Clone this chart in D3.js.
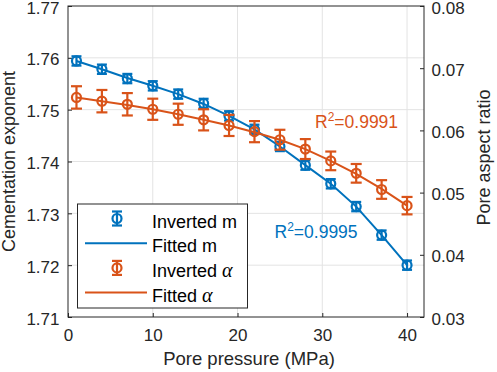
<!DOCTYPE html>
<html><head><meta charset="utf-8">
<script src="https://cdn.jsdelivr.net/npm/d3@7"></script>
<style>body{margin:0;background:#fff}svg{display:block;font-family:"Liberation Sans",Arial,sans-serif}</style>
</head><body><svg id="c" width="497" height="372"></svg>
<script>
// ---- data ----
const pressure = [1,4,7,10,13,16,19,22,25,28,31,34,37,40];
const mInverted = [1.7594,1.7578,1.7560,1.7546,1.7530,1.7512,1.7488,1.7462,1.7429,1.7393,1.7357,1.7313,1.7258,1.7200];
const mError = [0.0009,0.0009,0.0009,0.0009,0.0009,0.0009,0.0009,0.0009,0.0009,0.0009,0.0009,0.0009,0.0009,0.0009];
const mFitted = [1.7594,1.7578,1.7561,1.7546,1.7530,1.7511,1.7488,1.7462,1.7429,1.7393,1.7357,1.7313,1.7258,1.7200];
const alphaInverted = [0.0653,0.0647,0.0642,0.0634,0.0626,0.0617,0.0608,0.0598,0.0585,0.0570,0.0551,0.0531,0.0505,0.0479];
const alphaError = [0.0018,0.0018,0.0018,0.0017,0.0017,0.0017,0.0017,0.0017,0.0016,0.0016,0.0015,0.0015,0.0015,0.0014];
const alphaFitted = [0.0653,0.0647,0.0641,0.0634,0.0626,0.0617,0.0608,0.0597,0.0585,0.0570,0.0551,0.0530,0.0506,0.0479];
const xTicks = [0,10,20,30,40];
const yLeftTicks = [1.71,1.72,1.73,1.74,1.75,1.76,1.77];
const yRightTicks = [0.03,0.04,0.05,0.06,0.07,0.08];
const legendLabels = ["Inverted m","Fitted m","Inverted ","Fitted "];
const r2Labels = ["0.9995","0.9991"];

const blue = "#0072BD", orange = "#D95319", ink = "#262626";
const L = 68, R = 424, T = 6, B = 317;
const svg = d3.select("#c");
const x = d3.scaleLinear([0,42],[L,R]);
const yL = d3.scaleLinear([1.71,1.77],[B,T]);
const yR = d3.scaleLinear([0.03,0.08],[B,T]);

// grid
const g = svg.append("g").attr("stroke","#e3e3e3").attr("stroke-width",1);
xTicks.slice(1).forEach(t=>g.append("line").attr("x1",x(t)).attr("x2",x(t)).attr("y1",T).attr("y2",B));
yLeftTicks.slice(1,-1).forEach(t=>g.append("line").attr("x1",L).attr("x2",R).attr("y1",yL(t)).attr("y2",yL(t)));

// axes
function styleAxis(sel){
  sel.selectAll("text").attr("font-size",17).attr("fill",ink).attr("font-family","'Liberation Sans',Arial,sans-serif");
  sel.selectAll("line").attr("stroke",ink);
  sel.select(".domain").remove();
}
svg.append("g").attr("transform",`translate(0,${B})`)
  .call(d3.axisBottom(x).tickValues(xTicks).tickFormat(d3.format("d")).tickSizeInner(-4).tickSizeOuter(0).tickPadding(12))
  .call(styleAxis);
svg.append("g").attr("transform",`translate(${L},0)`)
  .call(d3.axisLeft(yL).tickValues(yLeftTicks).tickFormat(d3.format(".2f")).tickSizeInner(-4).tickSizeOuter(0).tickPadding(8.5))
  .call(styleAxis).selectAll("text").attr("dy","0.42em");
svg.append("g").attr("transform",`translate(${R},0)`)
  .call(d3.axisRight(yR).tickValues(yRightTicks).tickFormat(d3.format(".2f")).tickSizeInner(-4).tickSizeOuter(0).tickPadding(7.5))
  .call(styleAxis).selectAll("text").attr("dy","0.42em");
svg.append("rect").attr("x",L).attr("y",T).attr("width",R-L).attr("height",B-T)
  .attr("fill","none").attr("stroke",ink).attr("stroke-width",1);

// axis labels
svg.append("text").attr("x",(L+R)/2+3).attr("y",365).attr("text-anchor","middle")
  .attr("font-size",18.5).attr("fill",ink).text("Pore pressure (MPa)");
svg.append("text").attr("transform",`translate(15,${(T+B)/2}) rotate(-90)`).attr("text-anchor","middle")
  .attr("font-size",18).attr("fill",ink).text("Cementation exponent");
svg.append("text").attr("transform",`translate(490,${(T+B)/2-4}) rotate(-90)`).attr("text-anchor","middle")
  .attr("font-size",18).attr("fill",ink).text("Pore aspect ratio");

// series
function drawSeries(vals, errs, fit, y, color, cap){
  const line = d3.line().x((d,i)=>x(pressure[i])).y(d=>y(d));
  svg.append("path").datum(fit).attr("d",line).attr("fill","none").attr("stroke",color).attr("stroke-width",2);
  const s = svg.append("g").attr("stroke",color).attr("stroke-width",2.2).attr("fill","none");
  vals.forEach((v,i)=>{
    const cx = x(pressure[i]), hi = y(v+errs[i]), lo = y(v-errs[i]);
    s.append("line").attr("x1",cx).attr("x2",cx).attr("y1",hi).attr("y2",lo);
    s.append("line").attr("x1",cx-cap).attr("x2",cx+cap).attr("y1",hi).attr("y2",hi);
    s.append("line").attr("x1",cx-cap).attr("x2",cx+cap).attr("y1",lo).attr("y2",lo);
    s.append("circle").attr("cx",cx).attr("cy",y(v)).attr("r",4.5);
  });
}
drawSeries(mInverted, mError, mFitted, yL, blue, 5);
drawSeries(alphaInverted, alphaError, alphaFitted, yR, orange, 5.5);

// R^2 annotations
function r2(xp, yp, val, color){
  const t = svg.append("text").attr("x",xp).attr("y",yp).attr("font-size",17.5).attr("fill",color);
  t.append("tspan").text("R");
  t.append("tspan").attr("font-size",12).attr("dy",-7).text("2");
  t.append("tspan").attr("dy",7).text("="+val);
}
r2(274.5, 237.5, r2Labels[0], blue);
r2(315, 127.5, r2Labels[1], orange);

// legend
const lg = svg.append("g");
lg.append("rect").attr("x",77.5).attr("y",204).attr("width",170).attr("height",104)
  .attr("fill","#fff").attr("stroke",ink).attr("stroke-width",1);
const rows = [227.5,252.2,276.9,301.6];
const colors = [blue,blue,orange,orange];
rows.forEach((by,i)=>{
  const cy = by-9, c = colors[i];
  if(i%2===0){
    const m = lg.append("g").attr("stroke",c).attr("stroke-width",2.2).attr("fill","none");
    m.append("line").attr("x1",117).attr("x2",117).attr("y1",cy-7).attr("y2",cy+7);
    m.append("line").attr("x1",112).attr("x2",122).attr("y1",cy-7).attr("y2",cy-7);
    m.append("line").attr("x1",112).attr("x2",122).attr("y1",cy+7).attr("y2",cy+7);
    m.append("circle").attr("cx",117).attr("cy",cy).attr("r",4.5);
  } else {
    lg.append("line").attr("x1",85).attr("x2",147).attr("y1",cy).attr("y2",cy).attr("stroke",c).attr("stroke-width",2);
  }
  const t = lg.append("text").attr("x",152).attr("y",by).attr("font-size",18).attr("fill","#000").text(legendLabels[i]);
  if(i>=2) t.append("tspan").attr("font-family","'Liberation Serif',serif").attr("font-style","italic").attr("font-size",20).text("α");
});
</script></body></html>
